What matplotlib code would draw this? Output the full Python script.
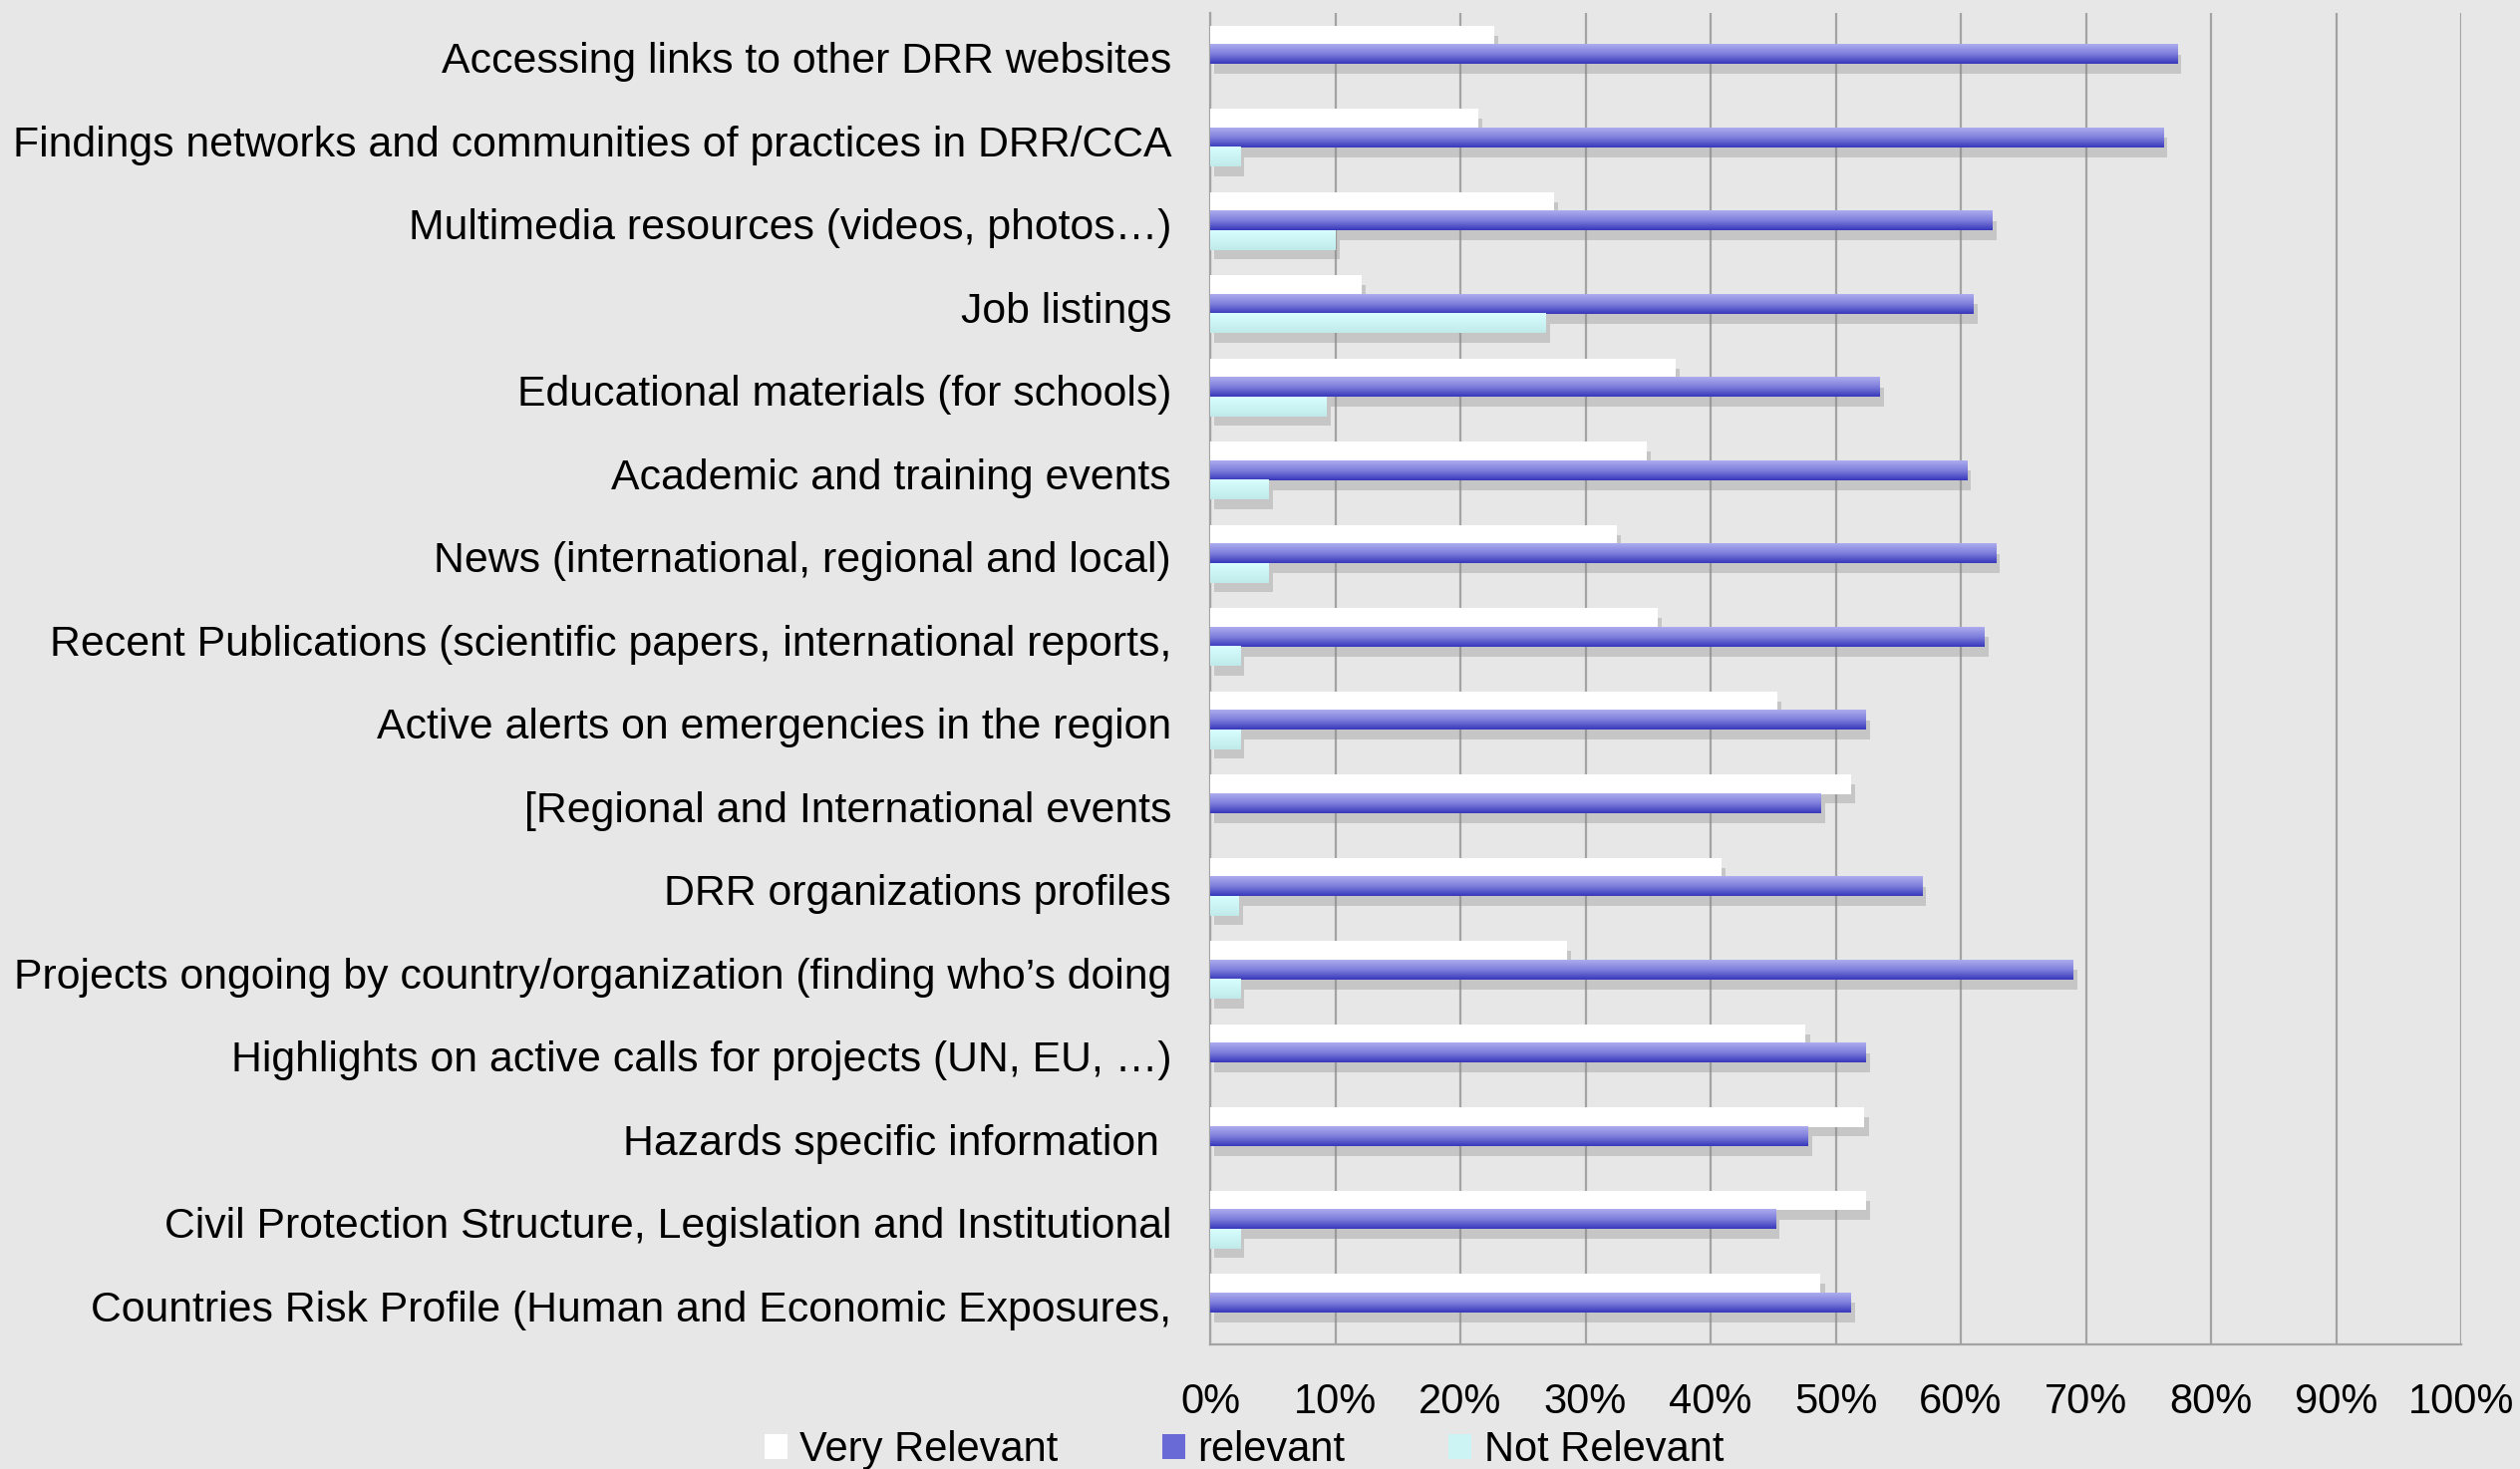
import matplotlib
matplotlib.use("Agg")
import matplotlib.pyplot as plt
import matplotlib.patheffects as pe
import matplotlib.transforms as mtransforms
from matplotlib.patches import Patch
from matplotlib.colors import LinearSegmentedColormap
import numpy as np

plt.rcParams['font.family'] = ['Liberation Sans', 'DejaVu Sans']

categories = [
    "Accessing links to other DRR websites",
    "Findings networks and communities of practices in DRR/CCA",
    "Multimedia resources (videos, photos\u2026)",
    "Job listings",
    "Educational materials (for schools)",
    "Academic and training events",
    "News (international, regional and local)",
    "Recent Publications (scientific papers, international reports,",
    "Active alerts on emergencies in the region",
    "[Regional and International events",
    "DRR organizations profiles",
    "Projects ongoing by country/organization (finding who\u2019s doing",
    "Highlights on active calls for projects (UN, EU, \u2026)",
    "Hazards specific information ",
    "Civil Protection Structure, Legislation and Institutional",
    "Countries Risk Profile (Human and Economic Exposures,",
]
very_relevant = [22.7, 21.4, 27.5, 12.1, 37.2, 34.9, 32.5, 35.8, 45.3, 51.2, 40.9, 28.5, 47.6, 52.3, 52.4, 48.8]
relevant      = [77.3, 76.2, 62.5, 61.0, 53.5, 60.5, 62.8, 61.9, 52.4, 48.8, 56.9, 69.0, 52.4, 47.8, 45.2, 51.2]
not_relevant  = [0.0, 2.4, 10.0, 26.8, 9.3, 4.7, 4.7, 2.4, 2.4, 0.0, 2.3, 2.4, 0.0, 0.0, 2.4, 0.0]
series_names = ["Very Relevant", "relevant", "Not Relevant"]
xticks = [0, 10, 20, 30, 40, 50, 60, 70, 80, 90, 100]
xtick_labels = ["0%", "10%", "20%", "30%", "40%", "50%", "60%", "70%", "80%", "90%", "100%"]

BG = "#E6E7E6"
GRID = "#A3A3A3"
W, H = 2528, 1474
fig = plt.figure(figsize=(W / 100, H / 100), dpi=100, facecolor=BG)
ax = fig.add_axes([1214 / W, 1 - 1349 / H, (2469 - 1214) / W, (1349 - 13) / H])
ax.set_facecolor(BG)

y = np.arange(len(categories))
h = 0.23
shadow = [pe.SimplePatchShadow(offset=(3, -7), shadow_rgbFace="#8a8a8a", alpha=0.35), pe.Normal()]

b_vr = ax.barh(y - h, very_relevant, height=h, color="white", zorder=3, path_effects=shadow)
b_r = ax.barh(y, relevant, height=h, color="#6a6ad6", zorder=3, path_effects=shadow)
b_nr = ax.barh(y + h, not_relevant, height=h, color="#CDF4F4", zorder=3, path_effects=shadow)

cm_r = LinearSegmentedColormap.from_list("r", ["#ACACEE", "#7E7EDC", "#3838BC"])
cm_nr = LinearSegmentedColormap.from_list("nr", ["#D8FEFE", "#C0EAEA"])
grad = np.linspace(0, 1, 64).reshape(-1, 1)

def add_grad(container, cmap):
    for p in container.patches:
        w = p.get_width()
        if w <= 0:
            continue
        x0 = p.get_x()
        y0 = p.get_y()
        hh = p.get_height()
        ax.imshow(grad, cmap=cmap, aspect="auto", origin="upper",
                  extent=(x0, x0 + w, y0 + hh, y0), zorder=4, interpolation="bilinear")

add_grad(b_r, cm_r)
add_grad(b_nr, cm_nr)

ax.set_xlim(0, 100)
ax.set_ylim(len(categories) - 0.5, -0.5)
ax.set_xticks(xticks)
ax.set_xticklabels(xtick_labels)
ax.set_yticks(y)
ax.set_yticklabels(categories)
ax.tick_params(axis="both", length=0, colors="black")
ax.tick_params(axis="x", pad=27, labelsize=30)
ax.tick_params(axis="y", pad=28, labelsize=30.8)
offset = mtransforms.ScaledTranslation(0, -3 / 100, fig.dpi_scale_trans)
for lab in ax.get_yticklabels():
    lab.set_transform(lab.get_transform() + offset)
ax.xaxis.grid(True, color=GRID, linewidth=1.6, zorder=0)
ax.set_axisbelow(True)
for s in ["top", "right"]:
    ax.spines[s].set_visible(False)
for s in ["left", "bottom"]:
    ax.spines[s].set_color(GRID)
    ax.spines[s].set_linewidth(1.6)

handles = [Patch(facecolor="white", edgecolor="none"),
           Patch(facecolor="#6a6ad6", edgecolor="none"),
           Patch(facecolor="#CDF4F4", edgecolor="none")]
fig.legend(handles, series_names, loc="center left", bbox_to_anchor=(767 / W, 1 - 1455 / H),
           ncol=3, frameon=False, fontsize=30, borderpad=0, borderaxespad=0,
           handlelength=0.55, handleheight=0.55, handletextpad=0.3, columnspacing=2.5)

fig.savefig("out.png", dpi=100, facecolor=BG)
